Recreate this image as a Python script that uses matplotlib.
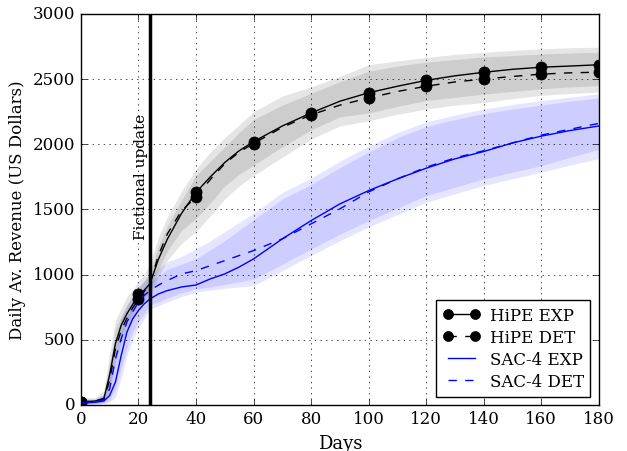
import matplotlib
matplotlib.use('Agg')
import matplotlib.pyplot as plt

plt.style.use('classic')
plt.rcParams['font.family'] = 'serif'
plt.rcParams['font.serif'] = ['DejaVu Serif']

days = [0, 2, 5, 8, 10, 12, 14, 16, 18, 20, 22, 24, 27, 30, 35, 40, 45, 50, 55, 60,
        70, 80, 90, 100, 110, 120, 130, 140, 150, 160, 170, 180]

# mean daily revenue
hipe_exp = [20, 25, 30, 50, 230, 470, 610, 700, 770, 850, 880, 930, 1120, 1270, 1470, 1630,
            1750, 1860, 1950, 2020, 2140, 2240, 2330, 2395, 2445, 2490, 2525, 2552, 2575,
            2591, 2600, 2610]
hipe_det = [20, 25, 30, 45, 190, 430, 570, 665, 745, 810, 870, 930, 1150, 1310, 1490, 1595,
            1730, 1850, 1940, 2005, 2130, 2225, 2300, 2355, 2405, 2445, 2478, 2500, 2520,
            2538, 2548, 2553]
sac_exp = [15, 18, 20, 30, 72, 175, 378, 558, 660, 724, 775, 813, 852, 877, 905, 920,
           967, 1005, 1058, 1120, 1274, 1414, 1542, 1644, 1734, 1816, 1888, 1944, 2010,
           2062, 2105, 2140]
sac_det = [15, 18, 22, 40, 123, 353, 506, 637, 713, 790, 839, 877, 920, 954, 1005, 1030,
           1069, 1107, 1146, 1184, 1274, 1389, 1504, 1634, 1734, 1824, 1895, 1950, 2010,
           2070, 2115, 2160]

# spread bands: outer low, inner low, inner high, outer high
hipe_out_lo = [0, 5, 10, 20, 100, 330, 480, 570, 660, 730, 780, 830, 980, 1110, 1240, 1330,
               1450, 1580, 1680, 1760, 1900, 2040, 2140, 2180, 2230, 2270, 2300, 2320, 2350,
               2375, 2390, 2400]
hipe_in_lo = [5, 10, 20, 30, 150, 400, 540, 630, 710, 780, 820, 870, 1040, 1180, 1340, 1430,
              1550, 1680, 1770, 1840, 1980, 2110, 2210, 2240, 2290, 2335, 2360, 2385, 2405,
              2425, 2440, 2450]
hipe_in_hi = [40, 40, 40, 80, 320, 580, 680, 770, 830, 900, 950, 1020, 1220, 1370, 1570, 1760,
              1870, 1980, 2090, 2190, 2300, 2390, 2480, 2560, 2600, 2630, 2650, 2670, 2680,
              2693, 2700, 2706]
hipe_out_hi = [60, 55, 55, 110, 400, 650, 740, 830, 880, 950, 1000, 1080, 1290, 1440, 1640,
               1810, 1940, 2050, 2150, 2250, 2370, 2440, 2520, 2610, 2640, 2665, 2690, 2705,
               2720, 2732, 2740, 2745]
sac_out_lo = [0, 3, 5, 10, 20, 60, 200, 380, 500, 600, 660, 736, 760, 790, 830, 866,
              880, 895, 905, 915, 1030, 1146, 1260, 1366, 1460, 1555, 1620, 1683, 1735,
              1785, 1840, 1890]
sac_in_lo = [5, 8, 10, 15, 40, 120, 280, 440, 560, 640, 700, 770, 790, 820, 860, 890,
             905, 925, 945, 965, 1080, 1197, 1310, 1414, 1510, 1606, 1670, 1734, 1785,
             1836, 1900, 1960]
sac_in_hi = [30, 30, 30, 50, 200, 400, 560, 680, 760, 820, 870, 950, 990, 1040, 1080, 1120,
             1190, 1260, 1340, 1420, 1580, 1690, 1820, 1940, 2050, 2135, 2190, 2235, 2270,
             2300, 2330, 2355]
sac_out_hi = [50, 45, 45, 80, 300, 500, 660, 760, 840, 900, 950, 992, 1050, 1097, 1140, 1197,
              1260, 1330, 1400, 1470, 1630, 1740, 1870, 1985, 2090, 2170, 2225, 2270, 2305,
              2335, 2362, 2386]

update_day = 24
marks = [i for i, d in enumerate(days) if d % 20 == 0]

fig = plt.figure(figsize=(6.27, 4.52), dpi=100)
ax = fig.add_axes([0.129, 0.102, 0.826, 0.865])

ax.fill_between(days, hipe_out_lo, hipe_out_hi, color='k', alpha=0.1, lw=0)
ax.fill_between(days, hipe_in_lo, hipe_in_hi, color='k', alpha=0.1, lw=0)
ax.fill_between(days, sac_out_lo, sac_out_hi, color='b', alpha=0.1, lw=0)
ax.fill_between(days, sac_in_lo, sac_in_hi, color='b', alpha=0.1, lw=0)

ax.plot(days, hipe_exp, 'k-o', markevery=marks, markersize=8, label='HiPE EXP')
ax.plot(days, hipe_det, 'k--o', markevery=marks, markersize=8, label='HiPE DET')
ax.plot(days, sac_exp, 'b-', label='SAC-4 EXP')
ax.plot(days, sac_det, 'b--', label='SAC-4 DET')

ax.axvline(update_day, color='k', lw=2.5)
ax.text(update_day - 0.6, 1270, 'Fictional update', rotation=90,
        ha='right', va='bottom', fontsize=11)

ax.set_xlim(0, 180)
ax.set_ylim(0, 3000)
ax.grid(True)
ax.set_xlabel('Days', fontsize=13)
ax.set_ylabel('Daily Av. Revenue (US Dollars)')
ax.legend(loc='lower right', fontsize=12, handlelength=2.2, labelspacing=0.3,
          borderpad=0.4, handletextpad=0.6, markerscale=0.9)

fig.savefig('out.png', dpi=100, facecolor='white')
